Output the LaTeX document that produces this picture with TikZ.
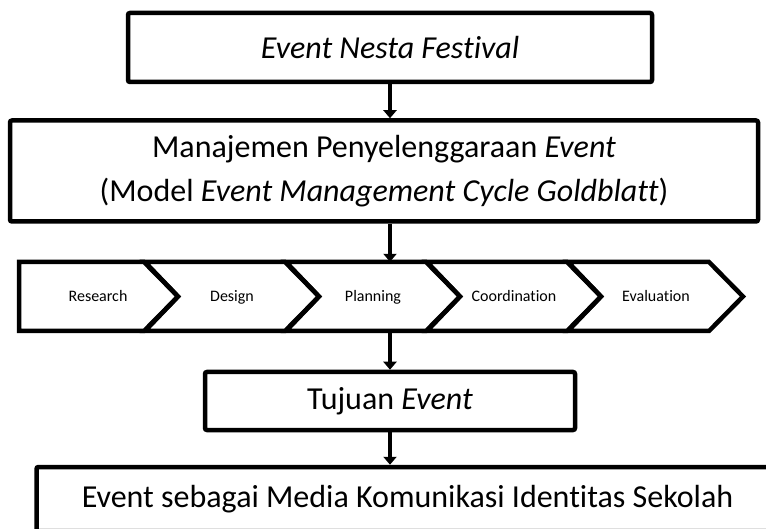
\documentclass[tikz,border=0pt]{standalone}
\usepackage{fontspec}
\setmainfont{Carlito}[Ligatures=NoCommon]
\usetikzlibrary{arrows.meta}

\tikzset{
  box/.style={draw, line width=4.5pt, rounded corners=2pt, inner sep=0pt,
    font=\fontsize{32}{44}\selectfont, align=center},
  flow/.style={line width=4.5pt, -{Triangle[length=8pt,width=13pt]}},
  chev/.style={draw, line width=4.5pt, line join=miter},
}

\begin{document}
\begin{tikzpicture}[x=1pt,y=-1pt]
  \useasboundingbox (0,0) rectangle (766,529);
  \clip (0,0) rectangle (766,529);

  %% Boxes
  \node[box, minimum width=524pt, minimum height=69pt] (nesta) at (390,47.5)
    {\textit{Event Nesta Festival}};
  \node[box, minimum width=748pt, minimum height=101pt] (manage) at (384,171)
    {Manajemen Penyelenggaraan \textit{Event}\\(Model \textit{Event Management Cycle Goldblatt})};

  %% Event management cycle
  \node[inner sep=0pt, minimum width=724pt, minimum height=69pt] (cycle) at (381,296.5) {};
  \foreach \i/\lbl/\l/\n/\t/\tx in {1/Research/19/19/178/98,
                                   2/Design/145/178/319/232,
                                   3/Planning/286/319/460/373,
                                   4/Coordination/427/460/601/514,
                                   5/Evaluation/568/601/743/656
                                  }{
    \draw[chev] (\l,262) -- ({\t-34},262) -- (\t,296.5) -- ({\t-34},331)
      -- (\l,331) -- (\n,296.5) -- cycle;
    \node[font=\fontsize{16}{18}\selectfont, anchor=base] (cyc\i) at (\tx,302) {\lbl};
  }

  \node[box, minimum width=370pt, minimum height=58pt] (goal) at (390,401)
    {Tujuan \textit{Event}};
  \node[box, minimum width=742pt, minimum height=64pt] (media) at (407.5,499)
    {Event sebagai Media Komunikasi Identitas Sekolah};

  %% Arrows
  \draw[flow] (nesta.south) -- (manage.north -| nesta.south);
  \draw[flow] (manage.south -| nesta.south) -- (cycle.north -| nesta.south);
  \draw[flow] (cycle.south -| nesta.south) -- (goal.north);
  \draw[flow] (goal.south) -- (media.north -| goal.south);
\end{tikzpicture}
\end{document}
